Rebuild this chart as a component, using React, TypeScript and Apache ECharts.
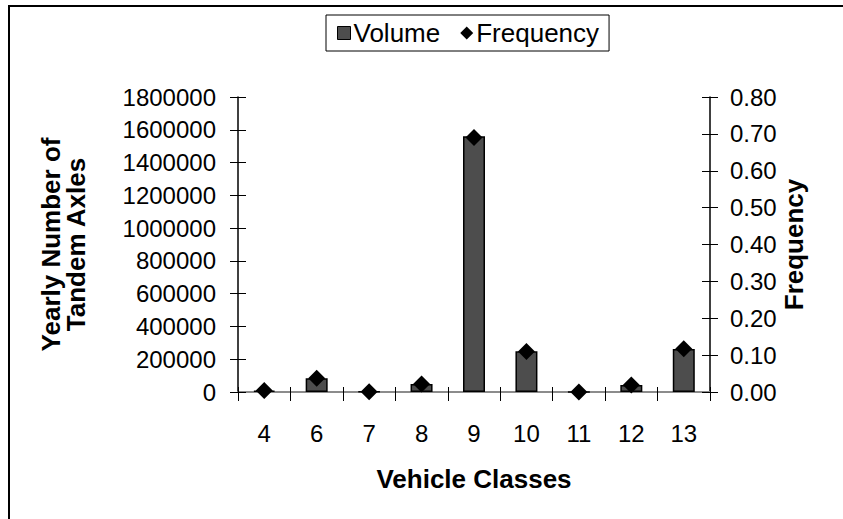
import React, { useEffect, useRef } from "react";
import * as echarts from "echarts";

const categories = ["4", "6", "7", "8", "9", "10", "11", "12", "13"];
const volume = [8000, 84000, 2000, 49000, 1560000, 248000, 500, 43000, 262000];
const frequency = [0.004, 0.037, 0.001, 0.022, 0.69, 0.11, 0.0, 0.019, 0.117];
const leftMax = 1800000;
const leftInterval = 200000;
const rightMax = 0.8;
const rightInterval = 0.1;

const FONT = "'Liberation Sans', Arial, sans-serif";

export default function App() {
  const ref = useRef<HTMLDivElement>(null);
  useEffect(() => {
    if (!ref.current) return;
    const chart = echarts.init(ref.current, null, { renderer: "svg" });
    const tickStyle = { color: "#000", width: 1 };
    const option: any = {
      animation: false,
      backgroundColor: "#fff",
      textStyle: { fontFamily: FONT },
      grid: { left: 238, right: 133, top: 97, bottom: 127 },
      legend: {
        left: 326,
        top: 15,
        padding: [5, 10, 5, 11],
        borderColor: "#000",
        borderWidth: 1,
        itemWidth: 13,
        itemHeight: 13,
        itemGap: 20,
        textStyle: { fontFamily: FONT, fontSize: 26, color: "#000", padding: [0, 0, 0, -2] },
        data: [
          { name: "Volume", icon: "rect", itemStyle: { color: "#4d4d4d", borderColor: "#000", borderWidth: 1 } },
          { name: "Frequency", icon: "diamond", itemStyle: { color: "#000" } },
        ],
      },
      xAxis: [
        {
          type: "category",
          data: categories,
          position: "bottom",
          axisLine: { lineStyle: { color: "#555", width: 2 } },
          axisTick: { show: true, length: 9, lineStyle: tickStyle },
          axisLabel: { fontFamily: FONT, fontSize: 24, color: "#000", margin: 29 },
          name: "Vehicle Classes",
          nameLocation: "middle",
          nameGap: 74,
          nameMoveOverlap: false,
          nameTextStyle: { fontFamily: FONT, fontSize: 26, fontWeight: "bold", color: "#000" },
        },
        {
          type: "category",
          data: categories,
          position: "top",
          axisLine: { show: true, lineStyle: { color: "#8c8c8c", width: 2 } },
          axisTick: { show: false },
          axisLabel: { show: false },
        },
        {
          type: "category",
          data: categories,
          position: "bottom",
          axisLine: { show: false },
          axisTick: { show: true, inside: true, length: 5, lineStyle: tickStyle },
          axisLabel: { show: false },
        },
      ],
      yAxis: [
        {
          type: "value",
          min: 0,
          max: leftMax,
          interval: leftInterval,
          position: "left",
          axisLine: { show: true, lineStyle: { color: "#000", width: 1.5 } },
          axisTick: { show: true, length: 8, lineStyle: tickStyle },
          splitLine: { show: false },
          axisLabel: {
            fontFamily: FONT,
            fontSize: 24,
            color: "#000",
            margin: 22,
            formatter: (v: number) => String(v),
          },
          name: "Yearly Number of\nTandem Axles",
          nameLocation: "middle",
          nameRotate: 90,
          nameGap: 150,
          nameMoveOverlap: false,
          nameTextStyle: { fontFamily: FONT, fontSize: 26, fontWeight: "bold", color: "#000", lineHeight: 25 },
        },
        {
          type: "value",
          min: 0,
          max: rightMax,
          interval: rightInterval,
          position: "right",
          axisLine: { show: true, lineStyle: { color: "#000", width: 1.5 } },
          axisTick: { show: true, length: 8, lineStyle: tickStyle },
          splitLine: { show: false },
          axisLabel: {
            fontFamily: FONT,
            fontSize: 24,
            color: "#000",
            margin: 20,
            formatter: (v: number) => v.toFixed(2),
          },
          name: "Frequency",
          nameLocation: "middle",
          nameRotate: 90,
          nameGap: 71,
          nameMoveOverlap: false,
          nameTextStyle: { fontFamily: FONT, fontSize: 26, fontWeight: "bold", color: "#000", verticalAlign: "top" },
        },
        {
          type: "value",
          min: 0,
          max: leftMax,
          interval: leftInterval,
          position: "left",
          axisLine: { show: false },
          axisTick: { show: true, inside: true, length: 8, lineStyle: tickStyle },
          splitLine: { show: false },
          axisLabel: { show: false },
        },
        {
          type: "value",
          min: 0,
          max: rightMax,
          interval: rightInterval,
          position: "right",
          axisLine: { show: false },
          axisTick: { show: true, inside: true, length: 8, lineStyle: tickStyle },
          splitLine: { show: false },
          axisLabel: { show: false },
        },
      ],
      series: [
        {
          name: "Volume",
          type: "bar",
          xAxisIndex: 0,
          yAxisIndex: 0,
          data: volume,
          barWidth: 22,
          itemStyle: { color: "#4d4d4d", borderColor: "#000", borderWidth: 1.5 },
        },
        {
          name: "Frequency",
          type: "line",
          xAxisIndex: 0,
          yAxisIndex: 1,
          data: frequency,
          symbol: "diamond",
          symbolSize: 17,
          lineStyle: { width: 0, opacity: 0 },
          itemStyle: { color: "#000" },
          z: 5,
        },
      ],
      graphic: [
        {
          type: "rect",
          shape: { x: 9, y: 6, width: 900, height: 600 },
          style: { fill: "none", stroke: "#000", lineWidth: 2 },
          silent: true,
        },
      ],
    };
    chart.setOption(option);
    return () => chart.dispose();
  }, []);
  return (
    <div
      ref={ref}
      style={{ position: "fixed", left: 0, top: 0, width: 843, height: 519 }}
    />
  );
}
